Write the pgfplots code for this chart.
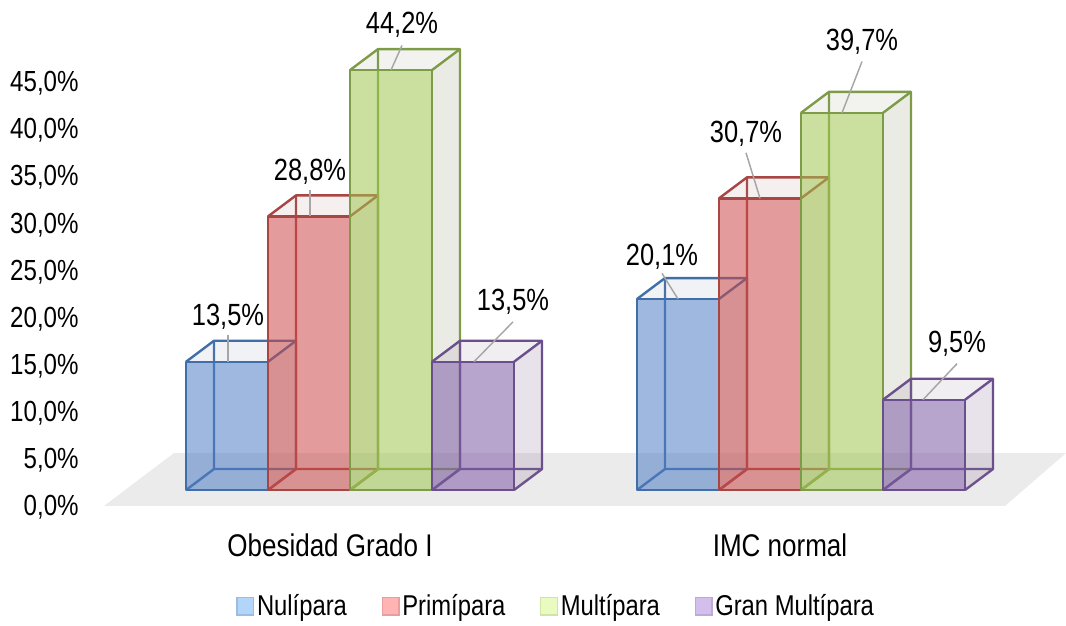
\documentclass[border=0pt]{standalone}
\usepackage{fontspec}
\usepackage{pgfplots}
\pgfplotsset{compat=1.18}
\setmainfont[FakeStretch=0.83]{Liberation Sans}

\definecolor{floorgrey}{RGB}{235,235,235}
\definecolor{leader}{RGB}{166,166,166}
% front face, pale side face and edge colour of each series
\definecolor{nulF}{RGB}{80,125,197}   \definecolor{nulS}{RGB}{140,150,170}  \definecolor{nulE}{RGB}{64,110,168}
\definecolor{priF}{RGB}{204,73,73}    \definecolor{priS}{RGB}{170,125,125}  \definecolor{priE}{RGB}{168,70,68}
\definecolor{mulF}{RGB}{160,199,80}   \definecolor{mulS}{RGB}{150,155,120}  \definecolor{mulE}{RGB}{126,156,72}
\definecolor{graF}{RGB}{126,91,166}   \definecolor{graS}{RGB}{140,115,150}  \definecolor{graE}{RGB}{106,79,140}
% legend swatches
\definecolor{nulL}{RGB}{178,213,250}  \definecolor{nulLE}{RGB}{157,189,224}
\definecolor{priL}{RGB}{255,179,179}  \definecolor{priLE}{RGB}{232,158,158}
\definecolor{mulL}{RGB}{233,251,192}  \definecolor{mulLE}{RGB}{211,227,165}
\definecolor{graL}{RGB}{211,191,236}  \definecolor{graLE}{RGB}{190,170,214}

% depth of the bars: 28 units right, 2.21 percent up
\newcommand{\prism}[6]{%
  % #1 left, #2 right, #3 value, #4 front colour, #5 side colour, #6 edge colour
  \pgfmathsetmacro{\xl}{#1+28}%
  \pgfmathsetmacro{\xr}{#2+28}%
  \pgfmathsetmacro{\yb}{2.21}%
  \pgfmathsetmacro{\yt}{#3+2.21}%
  % rear edges and floor outline
  \addplot[draw=#6,line width=1.8pt,line join=round] coordinates {(\xl,\yt) (\xl,\yb) (#1,0)};
  \addplot[draw=#6,line width=1.8pt,line join=round] coordinates {(\xl,\yb) (\xr,\yb) (#2,0)};
  % pale side and top faces
  \addplot[fill=#5,fill opacity=0.2,draw=none] coordinates {(#2,0) (\xr,\yb) (\xr,\yt) (#2,#3)} -- cycle;
  \addplot[fill=#5,fill opacity=0.12,draw=none] coordinates {(#1,#3) (\xl,\yt) (\xr,\yt) (#2,#3)} -- cycle;
  \addplot[draw=#6,line width=1.8pt,line join=round] coordinates {(#1,#3) (\xl,\yt) (\xr,\yt) (\xr,\yb)};
  \addplot[draw=#6,line width=1.8pt] coordinates {(#2,#3) (\xr,\yt)};
  % front face
  \addplot[fill=#4,fill opacity=0.55,draw=#6,line width=1.8pt,line join=round] coordinates {(#1,0) (#2,0) (#2,#3) (#1,#3)} -- cycle;
}
% value label with its leader line
\newcommand{\callout}[6]{%
  % #1,#2 leader start; #3,#4 leader end on the bar; #5 label height; #6 text
  \addplot[draw=leader,line width=1.1pt] coordinates {(#1,#2) (#3,#4)};
  \node[anchor=center,inner sep=0pt,yshift=-0.8pt,font=\fontsize{23}{27}\selectfont] at (axis cs:#1,#5) {#6};
}

\begin{document}
\begin{tikzpicture}[x=1pt,y=1pt]
\path[use as bounding box] (0,0) rectangle (799.5pt,468.75pt);

% Percent scale, group names and legend
\begin{axis}[
  at={(62.5pt,74pt)},anchor=south west,
  scale only axis,width=737pt,height=348.75pt,
  xmin=83.3,xmax=1066,ymin=-2.017,ymax=47.346,
  axis line style={draw=none},
  major tick length=0pt,
  ytick={0,5,...,45},
  xtick={330,780},
  xticklabels={Obesidad Grado I,IMC normal},
  yticklabel style={/pgf/number format/.cd,use comma,fixed,fixed zerofill,precision=1,assume math mode=true},
  yticklabel={\pgfmathprintnumber{\tick}\%},
  tick label style={font=\fontsize{21.8}{26}\selectfont},
  xticklabel style={font=\fontsize{23.5}{28}\selectfont},
  xticklabel shift=2pt,
  legend style={at={(0.4815,-0.172)},anchor=center,draw=none,fill=none,
    legend columns=4,font=\fontsize{21.5}{25}\selectfont,inner sep=0pt,
    /tikz/every even column/.append style={column sep=24pt},
    /tikz/every odd column/.append style={column sep=0pt}},
  legend image code/.code={\draw[#1,line width=1pt] (0pt,-6.5pt) rectangle (12.5pt,6.5pt);},
]
\addlegendimage{fill=nulL,draw=nulLE}
\addlegendentry{Nulípara}
\addlegendimage{fill=priL,draw=priLE}
\addlegendentry{Primípara}
\addlegendimage{fill=mulL,draw=mulLE}
\addlegendentry{Multípara}
\addlegendimage{fill=graL,draw=graLE}
\addlegendentry{Gran Multípara}
\end{axis}

% Floor and bars
\begin{axis}[
  at={(0pt,0pt)},anchor=south west,
  scale only axis,width=799.5pt,height=468.75pt,
  xmin=0,xmax=1066,ymin=-14.2105,ymax=51.5789,
  hide axis,clip=false,
]
\addplot[fill=floorgrey,draw=none] coordinates {(104,-1.68) (174,3.89) (1066,3.89) (1005,-1.68)} -- cycle;

% Obesidad Grado I
\prism{186}{268}{13.5}{nulF}{nulS}{nulE}
\prism{268}{350}{28.8}{priF}{priS}{priE}
\prism{350}{432}{44.2}{mulF}{mulS}{mulE}
\prism{432}{514}{13.5}{graF}{graS}{graE}
% IMC normal
\prism{637}{719}{20.1}{nulF}{nulS}{nulE}
\prism{719}{801}{30.7}{priF}{priS}{priE}
\prism{801}{883}{39.7}{mulF}{mulS}{mulE}
\prism{883}{965}{9.5}{graF}{graS}{graE}

\callout{228}{16.3}{228}{13.5}{18.3}{13,5\%}
\callout{310}{31.6}{310}{28.8}{33.6}{28,8\%}
\callout{402}{46.8}{391}{44.2}{49.05}{44,2\%}
\callout{513}{17.7}{474}{13.5}{19.9}{13,5\%}
\callout{662}{22.8}{678}{20.1}{24.7}{20,1\%}
\callout{746}{35.5}{760}{30.7}{37.6}{30,7\%}
\callout{862}{45.1}{842}{39.7}{47.3}{39,7\%}
\callout{957}{13.3}{923}{9.5}{15.5}{9,5\%}
\end{axis}
\end{tikzpicture}
\end{document}
